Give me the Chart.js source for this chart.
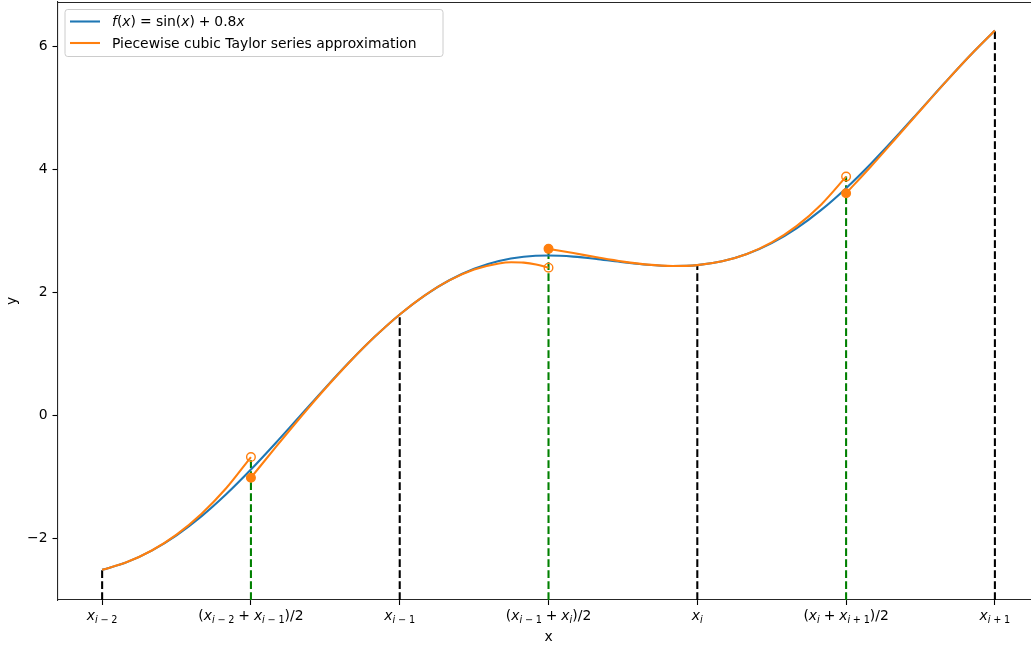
<!DOCTYPE html>
<html>
<head>
<meta charset="utf-8">
<script src="https://cdn.jsdelivr.net/npm/chart.js@4/dist/chart.umd.min.js"></script>
<style>
  html, body { margin: 0; padding: 0; background: #ffffff; overflow: hidden; }
  canvas { display: block; }
</style>
</head>
<body>
<canvas id="chart" width="1031" height="645"></canvas>
<script>
// ---- data ---------------------------------------------------------------
// f(x) = sin(x) + 0.8x sampled across the interval
const fX = [-2, -1.75, -1.5, -1.25, -1, -0.75, -0.5, -0.25, 0, 0.25, 0.5, 0.75, 1, 1.25, 1.5, 1.75,
            2, 2.25, 2.5, 2.75, 3, 3.25, 3.5, 3.75, 4, 4.25, 4.5, 4.75, 5, 5.25, 5.5, 5.75, 6, 6.25,
            6.5, 6.75, 7];
const fY = [-2.5093, -2.3840, -2.1975, -1.9490, -1.6415, -1.2816, -0.8794, -0.4474, 0, 0.4474,
            0.8794, 1.2816, 1.6415, 1.9490, 2.1975, 2.3840, 2.5093, 2.5781, 2.5985, 2.5817, 2.5411,
            2.4918, 2.4492, 2.4284, 2.4432, 2.5050, 2.6225, 2.8007, 3.0411, 3.3411, 3.6945, 4.0917,
            4.5206, 4.9668, 5.4151, 5.8500, 6.2570];

// cubic Taylor pieces, one around each node
const seg1X = [-2, -1.75, -1.5, -1.25, -1, -0.75, -0.5];
const seg1Y = [-2.5093, -2.3838, -2.1949, -1.9364, -1.6014, -1.1837, -0.6764];
const seg2X = [-0.5, -0.25, 0, 0.25, 0.5, 0.75, 1, 1.25, 1.5, 1.75, 2, 2.125, 2.25, 2.375, 2.5];
const seg2Y = [-1.0118, -0.5154, -0.0294, 0.4376, 0.8774, 1.2815, 1.6415, 1.9489, 2.1952, 2.3720,
               2.4710, 2.4887, 2.4836, 2.4548, 2.4014];
const seg3X = [2.5, 2.75, 3, 3.25, 3.5, 3.75, 4, 4.25, 4.5, 4.75, 5, 5.25, 5.5];
const seg3Y = [2.7074, 2.6387, 2.5663, 2.5003, 2.4510, 2.4286, 2.4432, 2.5052, 2.6246, 2.8119,
               3.0769, 3.4303, 3.8818];
const seg4X = [5.5, 5.75, 6, 6.25, 6.5, 6.75, 7];
const seg4Y = [3.6111, 4.0467, 4.5003, 4.9598, 5.4136, 5.8500, 6.2570];

// nodes and midpoints
const nodeX = [-2, 1, 4, 7];
const nodeY = [-2.5093, 1.6415, 2.4432, 6.2570];
const midX = [-0.5, 2.5, 5.5];
const midOpenY = [-0.6764, 2.4014, 3.8818];    // end of the piece on the left
const midFilledY = [-1.0118, 2.7074, 3.6111];  // start of the piece on the right
const yFloor = -3;

// axes
const xTickValues = [-2, -0.5, 1, 2.5, 4, 5.5, 7];
const xTickLabels = ['$x_{i-2}$', '$(x_{i-2}+x_{i-1})/2$', '$x_{i-1}$', '$(x_{i-1}+x_{i})/2$',
                     '$x_{i}$', '$(x_{i}+x_{i+1})/2$', '$x_{i+1}$'];
const yTickValues = [-2, 0, 2, 4, 6];
const xTitle = 'x';
const seriesLabels = ['$f(x)=\\sin(x)+0.8x$', 'Piecewise cubic Taylor series approximation'];

// ---- styling --------------------------------------------------------------
const BLUE = '#1f77b4';
const ORANGE = '#ff7f0e';
const FONT = '"DejaVu Sans", sans-serif';
const FS = 13.9;
const LW = 2.08;
const SPINE = '#262626';

const pts = (xs, ys) => xs.map((x, i) => ({ x, y: ys[i] }));
function stems(xs, tops) {
  const out = [];
  xs.forEach((x, i) => { out.push({ x, y: yFloor }, { x, y: tops[i] }, { x, y: null }); });
  return out;
}

// ---- small mathtext-like renderer ------------------------------------------
function mathRuns(src) {
  const runs = [];
  function parse(str, sub) {
    for (let k = 0; k < str.length; k++) {
      const c = str[k];
      if (c === '_' && str[k + 1] === '{') {
        const end = str.indexOf('}', k);
        parse(str.slice(k + 2, end), true);
        k = end;
      } else if (c === '\\') {
        let m = k + 1;
        while (m < str.length && /[a-z]/i.test(str[m])) m++;
        runs.push({ text: str.slice(k + 1, m), italic: false, sub, space: 0 });
        k = m - 1;
      } else if (c === '-') {
        runs.push({ text: '\u2212', italic: false, sub, space: 0.28 });
      } else if (c === '+') {
        runs.push({ text: '+', italic: false, sub, space: 0.28 });
      } else if (c === '=') {
        runs.push({ text: '=', italic: false, sub, space: 0.3 });
      } else if (/[a-z]/i.test(c)) {
        runs.push({ text: c, italic: true, sub, space: 0 });
      } else {
        runs.push({ text: c, italic: false, sub, space: 0 });
      }
    }
  }
  parse(src, false);
  return runs;
}

function drawLabel(ctx, label, x, y, align, size) {
  ctx.save();
  ctx.fillStyle = '#000';
  ctx.textBaseline = 'alphabetic';
  ctx.textAlign = 'left';
  if (label[0] !== '$') {
    ctx.font = size + 'px ' + FONT;
    const w = ctx.measureText(label).width;
    ctx.fillText(label, align === 'center' ? x - w / 2 : x, y);
    ctx.restore();
    return;
  }
  const runs = mathRuns(label.slice(1, -1));
  let total = 0;
  for (const r of runs) {
    const s = r.sub ? size * 0.7 : size;
    r.font = (r.italic ? 'italic ' : '') + s.toFixed(2) + 'px ' + FONT;
    ctx.font = r.font;
    r.w = ctx.measureText(r.text).width;
    r.pad = r.space * s;
    r.dy = r.sub ? size * 0.2 : 0;
    total += r.w + 2 * r.pad;
  }
  let cx = align === 'center' ? x - total / 2 : x;
  for (const r of runs) {
    cx += r.pad;
    ctx.font = r.font;
    ctx.fillText(r.text, cx, y + r.dy);
    cx += r.w + r.pad;
  }
  ctx.restore();
}

// ---- plugins ---------------------------------------------------------------
const decorations = {
  id: 'decorations',
  afterDraw(chart) {
    const { ctx, chartArea } = chart;
    const xs = chart.scales.x;

    // top spine
    ctx.save();
    ctx.strokeStyle = SPINE;
    ctx.lineWidth = 1.1;
    ctx.beginPath();
    ctx.moveTo(chartArea.left, chartArea.top + 0.5);
    ctx.lineTo(chartArea.right, chartArea.top + 0.5);
    ctx.stroke();
    ctx.restore();

    // x tick labels
    xTickValues.forEach((v, i) => {
      drawLabel(ctx, xTickLabels[i], xs.getPixelForValue(v), chartArea.bottom + 20, 'center', FS);
    });

    // x axis title, centred on the middle of the x domain
    const mid = (xTickValues[0] + xTickValues[xTickValues.length - 1]) / 2;
    drawLabel(ctx, xTitle, xs.getPixelForValue(mid), chartArea.bottom + 41, 'center', FS);

    // legend
    const bx = chartArea.left + 7.5, by = chartArea.top + 7.5, bw = 378, bh = 47, r = 2.8;
    ctx.save();
    ctx.beginPath();
    ctx.moveTo(bx + r, by);
    ctx.arcTo(bx + bw, by, bx + bw, by + bh, r);
    ctx.arcTo(bx + bw, by + bh, bx, by + bh, r);
    ctx.arcTo(bx, by + bh, bx, by, r);
    ctx.arcTo(bx, by, bx + bw, by, r);
    ctx.closePath();
    ctx.fillStyle = 'rgba(255,255,255,0.8)';
    ctx.fill();
    ctx.strokeStyle = '#cccccc';
    ctx.lineWidth = 1;
    ctx.stroke();
    const colors = [BLUE, ORANGE];
    seriesLabels.forEach((lab, i) => {
      const ry = by + 12 + i * 21.5;
      ctx.strokeStyle = colors[i];
      ctx.lineWidth = LW;
      ctx.lineCap = 'butt';
      ctx.beginPath();
      ctx.moveTo(bx + 5, ry);
      ctx.lineTo(bx + 35, ry);
      ctx.stroke();
      drawLabel(ctx, lab, bx + 47, ry + 4.8, 'left', FS);
    });
    ctx.restore();
  }
};

// ---- chart -------------------------------------------------------------------
const lineStyle = (color) => ({
  borderColor: color, backgroundColor: color, borderWidth: LW, pointRadius: 0,
  cubicInterpolationMode: 'monotone', borderJoinStyle: 'round', borderCapStyle: 'butt', fill: false
});

new Chart(document.getElementById('chart'), {
  type: 'line',
  data: {
    datasets: [
      { label: 'nodes', data: stems(nodeX, nodeY), borderColor: '#000000', borderWidth: LW,
        borderDash: [7.7, 3.3], pointRadius: 0, tension: 0, order: 5 },
      { label: 'midpoints', data: stems(midX, midOpenY.map((v, i) => Math.max(v, midFilledY[i]))),
        borderColor: '#008000', borderWidth: LW, borderDash: [7.7, 3.3], pointRadius: 0, tension: 0, order: 5 },
      { label: seriesLabels[0], data: pts(fX, fY), ...lineStyle(BLUE), order: 4 },
      { label: seriesLabels[1], data: pts(seg1X, seg1Y), ...lineStyle(ORANGE), order: 3 },
      { label: seriesLabels[1], data: pts(seg2X, seg2Y), ...lineStyle(ORANGE), order: 3 },
      { label: seriesLabels[1], data: pts(seg3X, seg3Y), ...lineStyle(ORANGE), order: 3 },
      { label: seriesLabels[1], data: pts(seg4X, seg4Y), ...lineStyle(ORANGE), order: 3 },
      { label: 'open', data: pts(midX, midOpenY), showLine: false, pointRadius: 4.3,
        pointBackgroundColor: 'rgba(0,0,0,0)', pointBorderColor: ORANGE, pointBorderWidth: 1.4, order: 1 },
      { label: 'filled', data: pts(midX, midFilledY), showLine: false, pointRadius: 4.3,
        pointBackgroundColor: ORANGE, pointBorderColor: ORANGE, pointBorderWidth: 1.4, order: 1 }
    ]
  },
  options: {
    responsive: false,
    animation: false,
    events: [],
    devicePixelRatio: 1,
    layout: { autoPadding: false, padding: { top: 2, right: 0, bottom: 0, left: 0 } },
    plugins: { legend: { display: false }, tooltip: { enabled: false }, title: { display: false } },
    scales: {
      x: {
        type: 'linear', position: 'bottom', min: -2.45, max: 7.364,
        afterBuildTicks: (s) => { s.ticks = xTickValues.map((v) => ({ value: v })); },
        ticks: { display: false },
        grid: { drawOnChartArea: false, drawTicks: true, tickLength: 5, tickColor: '#000', tickWidth: 1.1 },
        border: { display: true, color: SPINE, width: 1.1 },
        title: { display: false },
        afterFit: (s) => { s.height = 45; s.paddingLeft = 0; s.paddingRight = 0; }
      },
      y: {
        type: 'linear', position: 'left', min: -3, max: 6.72,
        afterBuildTicks: (s) => { s.ticks = yTickValues.map((v) => ({ value: v })); },
        ticks: { color: '#000', padding: 5, font: { family: FONT, size: FS },
                 callback: (v) => (v < 0 ? '\u2212' + Math.abs(v) : String(v)) },
        grid: { drawOnChartArea: false, drawTicks: true, tickLength: 5, tickColor: '#000', tickWidth: 1.1 },
        border: { display: true, color: SPINE, width: 1.1 },
        title: { display: true, text: 'y', color: '#000', font: { family: FONT, size: FS, lineHeight: 1.2 },
                 padding: { top: 4, bottom: 0 } },
        afterFit: (s) => { s.width = 57.5; s.paddingTop = 0; s.paddingBottom = 0; }
      }
    }
  },
  plugins: [decorations]
});
</script>
</body>
</html>
